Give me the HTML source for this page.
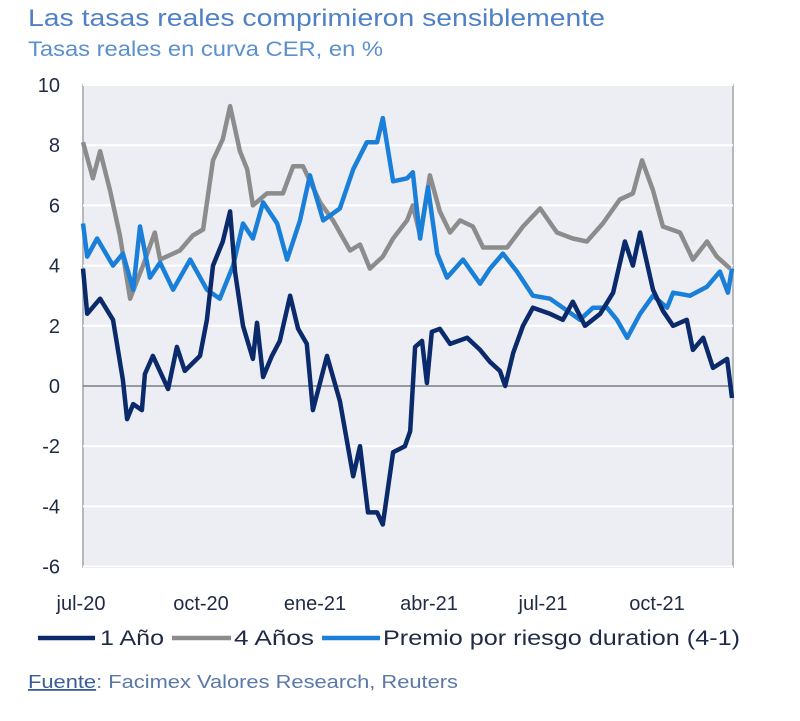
<!DOCTYPE html>
<html><head><meta charset="utf-8"><style>
body{margin:0;background:#fff;width:800px;height:721px;overflow:hidden;font-family:"Liberation Sans",sans-serif}
svg{position:absolute;left:0;top:0}
</style></head><body>
<svg id="c" width="800" height="721">
<text x="28" y="26" font-size="24" fill="#4f81c7" textLength="577" lengthAdjust="spacingAndGlyphs">Las tasas reales comprimieron sensiblemente</text>
<text x="28" y="56" font-size="21" fill="#5a8fd0" textLength="355" lengthAdjust="spacingAndGlyphs">Tasas reales en curva CER, en %</text>
<rect x="83" y="85" width="650" height="482" fill="#eceef3" stroke="#a0a4ab" stroke-width="1.5"/>
<g id="grid"></g><g id="series"></g><g id="axes"></g>
<g font-size="21" fill="#1f2a44">
<line x1="38" y1="638" x2="95" y2="638" stroke="#0a2a6b" stroke-width="4.5"/>
<text x="100" y="645" textLength="64" lengthAdjust="spacingAndGlyphs">1 Año</text>
<line x1="172" y1="638" x2="231" y2="638" stroke="#8c8c8c" stroke-width="4.5"/>
<text x="234" y="645" textLength="80" lengthAdjust="spacingAndGlyphs">4 Años</text>
<line x1="322" y1="638" x2="380" y2="638" stroke="#1a7fd8" stroke-width="4.5"/>
<text x="383" y="645" textLength="357" lengthAdjust="spacingAndGlyphs">Premio por riesgo duration (4-1)</text>
</g>
<text x="28" y="688" font-size="18" fill="#5a78a8" textLength="430" lengthAdjust="spacingAndGlyphs"><tspan text-decoration="underline" fill="#3a5c98">Fuente</tspan>: Facimex Valores Research, Reuters</text>
</svg>
<script>
const yTicks=[10,8,6,4,2,0,-2,-4,-6];
const xTickLabels=["jul-20","oct-20","ene-21","abr-21","jul-21","oct-21"];
const xTickMonths=[0,3,6,9,12,15];
const x1=[0,0.11,0.45,0.79,1.05,1.16,1.32,1.55,1.63,1.84,2.24,2.47,2.68,3.08,3.26,3.42,3.68,3.87,4.0,4.21,4.47,4.58,4.74,4.97,5.18,5.45,5.66,5.89,6.05,6.42,6.76,7.11,7.29,7.5,7.74,7.89,8.16,8.47,8.61,8.74,8.92,9.05,9.18,9.39,9.66,10.11,10.45,10.71,10.97,11.11,11.32,11.58,11.84,12.29,12.63,12.89,13.21,13.61,13.95,14.26,14.47,14.66,15.0,15.26,15.53,15.89,16.05,16.32,16.58,16.95,17.08];
const v1=[3.9,2.4,2.9,2.2,0.2,-1.1,-0.6,-0.8,0.4,1.0,-0.1,1.3,0.5,1.0,2.2,4.0,4.8,5.8,3.8,2.0,0.9,2.1,0.3,1.0,1.5,3.0,1.9,1.4,-0.8,1.0,-0.5,-3.0,-2.0,-4.2,-4.2,-4.6,-2.2,-2.0,-1.5,1.3,1.5,0.1,1.8,1.9,1.4,1.6,1.2,0.8,0.5,0.0,1.1,2.0,2.6,2.4,2.2,2.8,2.0,2.4,3.1,4.8,4.0,5.1,3.2,2.5,2.0,2.2,1.2,1.6,0.6,0.9,-0.4];
const x4=[0,0.26,0.45,0.71,0.97,1.24,1.58,1.89,2.03,2.55,2.89,3.16,3.42,3.68,3.87,4.13,4.32,4.47,4.84,5.26,5.53,5.79,6.24,6.58,7.03,7.29,7.55,7.89,8.16,8.53,8.68,8.87,9.13,9.39,9.66,9.92,10.26,10.53,10.89,11.16,11.58,12.03,12.47,12.89,13.26,13.68,14.13,14.47,14.71,15.0,15.26,15.71,16.05,16.42,16.68,17.03];
const v4=[8.1,6.9,7.8,6.5,5.0,2.9,4.0,5.1,4.2,4.5,5.0,5.2,7.5,8.2,9.3,7.8,7.2,6.0,6.4,6.4,7.3,7.3,6.1,5.5,4.5,4.7,3.9,4.3,4.9,5.5,6.0,5.0,7.0,5.8,5.1,5.5,5.3,4.6,4.6,4.6,5.3,5.9,5.1,4.9,4.8,5.4,6.2,6.4,7.5,6.5,5.3,5.1,4.2,4.8,4.3,3.9];
const xp=[0,0.11,0.37,0.79,1.05,1.32,1.5,1.76,2.03,2.37,2.82,3.26,3.6,3.95,4.21,4.47,4.74,5.11,5.37,5.71,5.97,6.32,6.76,7.11,7.47,7.74,7.89,8.16,8.53,8.68,8.87,9.08,9.32,9.58,10.0,10.45,10.71,11.05,11.42,11.84,12.29,12.63,13.08,13.42,13.79,14.05,14.32,14.66,15.0,15.37,15.53,15.97,16.42,16.76,16.97,17.08];
const vp=[5.4,4.3,4.9,4.0,4.4,3.2,5.3,3.6,4.1,3.2,4.2,3.2,2.9,4.0,5.4,4.9,6.1,5.4,4.2,5.5,7.0,5.5,5.9,7.2,8.1,8.1,8.9,6.8,6.9,7.1,4.9,6.6,4.4,3.6,4.2,3.4,3.9,4.4,3.8,3.0,2.9,2.6,2.2,2.6,2.6,2.2,1.6,2.4,3.0,2.6,3.1,3.0,3.3,3.8,3.1,3.9];

const NS="http://www.w3.org/2000/svg";
const X=m=>83+m*38.0;
const Y=v=>386-v*30.1;
const grid=document.getElementById('grid'),axes=document.getElementById('axes'),ser=document.getElementById('series');
function mk(t,a){const e=document.createElementNS(NS,t);for(const k in a)e.setAttribute(k,a[k]);return e;}
yTicks.forEach(v=>{
  const l=mk('line',{x1:83,x2:733,y1:Y(v),y2:Y(v),stroke:v===0?'#7a7d84':'#ffffff','stroke-width':v===0?1.5:2});
  
  
  grid.appendChild(l);
  const t=mk('text',{x:60,y:Y(v)+7,'text-anchor':'end','font-size':20,fill:'#1f2a44'});
  t.textContent=v;
  
  
  axes.appendChild(t);
});
xTickLabels.forEach((s,i)=>{
  const t=mk('text',{x:X(xTickMonths[i])+(i===0?-2:4),y:610,'text-anchor':'middle','font-size':20,fill:'#1f2a44'});
  t.textContent=s;
  
  
  axes.appendChild(t);
});
function line(xs,vs,color,name){
  const d=xs.map((m,i)=>(i?'L':'M')+X(m).toFixed(1)+','+Y(vs[i]).toFixed(1)).join('');
  const p=mk('path',{d:d,fill:'none',stroke:color,'stroke-width':4.5,'stroke-linejoin':'round'});
  
  
  ser.appendChild(p);
}
line(x4,v4,'#8c8c8c','series-4-anos');
line(xp,vp,'#1a7fd8','series-premio-duration');
line(x1,v1,'#0a2a6b','series-1-ano');
</script>
</body></html>
